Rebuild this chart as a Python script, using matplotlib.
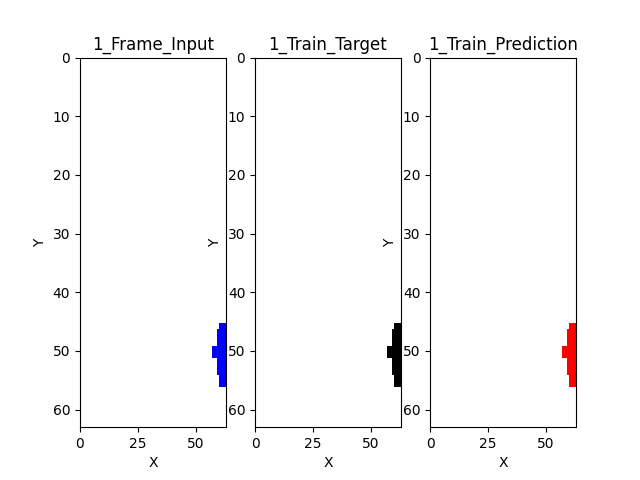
import numpy as np
import matplotlib
matplotlib.use("Agg")
import matplotlib.pyplot as plt
from matplotlib.colors import ListedColormap

size = 64
# first filled column for each row of the blob (filled through the right edge)
blob_rows = [46, 47, 48, 49, 50, 51, 52, 53, 54, 55, 56]
blob_start = [61, 60, 60, 60, 58, 58, 60, 60, 60, 61, 61]

titles = ["1_Frame_Input", "1_Train_Target", "1_Train_Prediction"]
colors = ["blue", "black", "red"]

frame = np.zeros((size, size))
for r, c in zip(blob_rows, blob_start):
    frame[r, c:] = 1

fig, axes = plt.subplots(1, 3, figsize=(6.4, 4.8), dpi=100)
for ax, title, col in zip(axes, titles, colors):
    ax.imshow(frame, cmap=ListedColormap(["white", col]), interpolation="nearest",
              extent=(0, size - 1, size - 1, 0), aspect="auto")
    ax.set_title(title)
    ax.set_xlabel("X")
    ax.set_ylabel("Y")

fig.savefig("out.png")
